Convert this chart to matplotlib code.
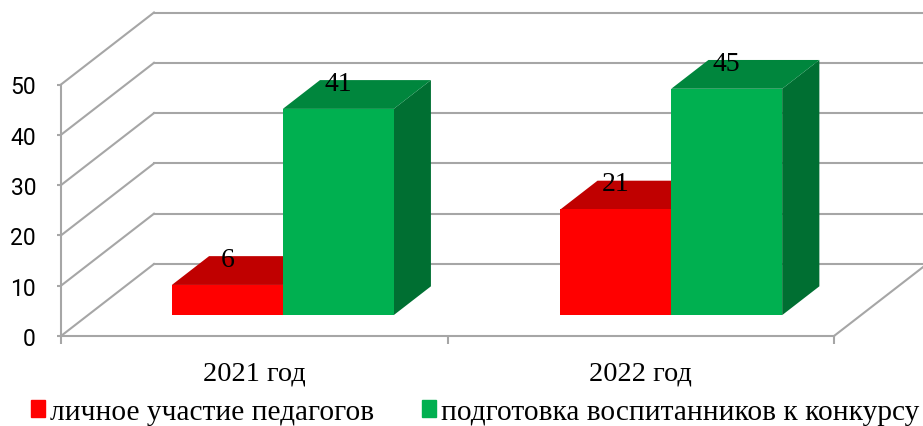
import matplotlib
matplotlib.use("Agg")
import matplotlib.pyplot as plt
from matplotlib.patches import Polygon, Patch

years = ["2021 год", "2022 год"]
series_names = ["личное участие педагогов", "подготовка воспитанников к конкурсу"]
teachers = [6, 21]
pupils = [41, 45]
y_ticks = [0, 10, 20, 30, 40, 50]

# oblique projection of the 3D box, in data units (x = categories, y = values)
depth_x = 93 / 386.5
depth_y = 72 / 5.03
bar_w = 0.287
bar_start = 0.2171
bar_step = 1.005
front = 0.29
bar_depth = 0.40

GREY = "#a6a6a6"
SERIF = "Liberation Serif"

fig = plt.figure(figsize=(9.23, 4.27), dpi=100)
ax = fig.add_axes([0, 0, 1, 1])
ax.set_xlim(-61 / 386.5, 862 / 386.5)
ax.set_ylim(-(427 - 337) / 5.03, 337 / 5.03)
ax.patch.set_alpha(0)


def project(x, v, d):
    return x + d * depth_x, v + d * depth_y


# walls and floor
for v in y_ticks:
    ax.plot([0, depth_x], [v, v + depth_y], color=GREY, lw=1.5, zorder=1)
    ax.plot([depth_x, 2 + depth_x], [v + depth_y, v + depth_y], color=GREY, lw=1.5, zorder=1)
ax.plot([2, 2 + depth_x], [0, depth_y], color=GREY, lw=1.5, zorder=1)


def draw_bar(x, v, face, top, side):
    a = [project(x, 0, front), project(x + bar_w, 0, front),
         project(x + bar_w, v, front), project(x, v, front)]
    t = [project(x, v, front), project(x + bar_w, v, front),
         project(x + bar_w, v, front + bar_depth), project(x, v, front + bar_depth)]
    s = [project(x + bar_w, 0, front), project(x + bar_w, 0, front + bar_depth),
         project(x + bar_w, v, front + bar_depth), project(x + bar_w, v, front)]
    ax.add_patch(Polygon(s, color=side, lw=0, zorder=3))
    ax.add_patch(Polygon(t, color=top, lw=0, zorder=3))
    ax.add_patch(Polygon(a, color=face, lw=0, zorder=3))


for i in range(len(years)):
    x0 = i * bar_step + bar_start
    draw_bar(x0, teachers[i], "#ff0000", "#c00000", "#a00000")
    draw_bar(x0 + bar_w, pupils[i], "#00b050", "#00863d", "#006f32")
    for x, v in [(x0, teachers[i]), (x0 + bar_w, pupils[i])]:
        lx, ly = project(x + bar_w / 2, v, front)
        ax.text(lx, ly + 5.1, str(v), ha="center", va="center",
                family=SERIF, fontsize=20, color="black", zorder=5)

# axes
for name in ["top", "right"]:
    ax.spines[name].set_visible(False)
ax.spines["left"].set_position(("data", 0))
ax.spines["left"].set_bounds(0, 50)
ax.spines["bottom"].set_position(("data", 0))
ax.spines["bottom"].set_bounds(0, 2)
for name in ["left", "bottom"]:
    ax.spines[name].set_color(GREY)
    ax.spines[name].set_linewidth(1.5)

ax.set_yticks(y_ticks)
ax.set_yticklabels([str(v) for v in y_ticks], family="Roboto", fontsize=16.5)
ax.tick_params(axis="y", direction="out", length=3, width=1.5, color=GREY, pad=15)
ax.set_xticks([0, 1, 2])
ax.set_xticklabels([])
ax.tick_params(axis="x", which="major", direction="out", length=6, width=1.5, color=GREY)
ax.set_xticks([0.5, 1.5], minor=True)
ax.set_xticklabels(years, minor=True, family=SERIF, fontsize=20.4)
ax.tick_params(axis="x", which="minor", length=0, pad=18)

handles = [Patch(color="#ff0000"), Patch(color="#00b050")]
fig.legend(handles, series_names, loc="lower left", bbox_to_anchor=(31 / 923, 1 / 427),
           ncol=2, frameon=False, borderpad=0, borderaxespad=0,
           handlelength=0.48, handleheight=0.48, handletextpad=0.17, columnspacing=1.63,
           prop={"family": SERIF, "size": 21.2})

fig.savefig("out.png", dpi=100)
